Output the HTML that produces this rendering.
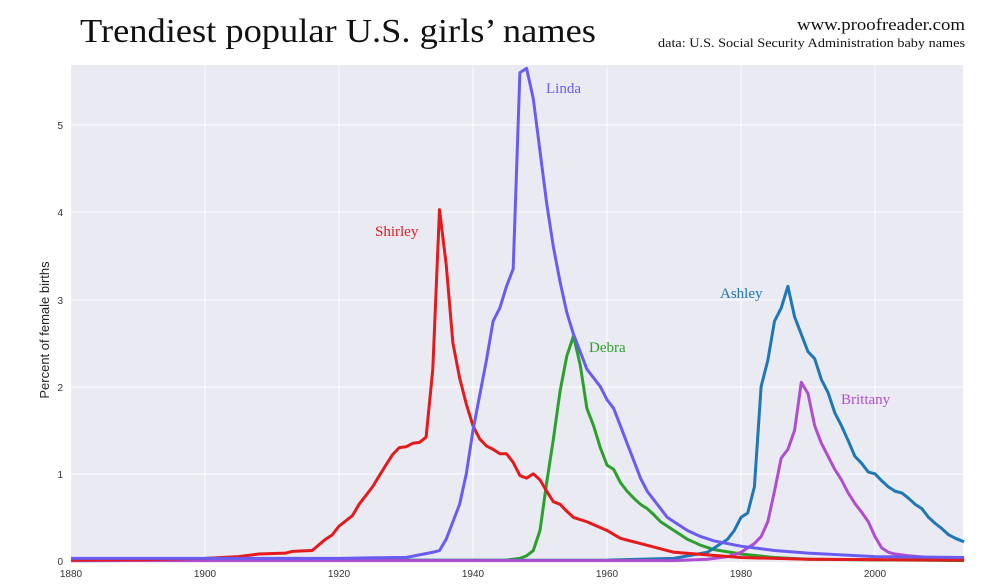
<!DOCTYPE html><html><head><style>body{margin:0;background:#fff}svg{display:block}</style></head><body>
<svg width="988" height="587" xmlns="http://www.w3.org/2000/svg" font-family="Liberation Sans, sans-serif">
<text x="80" y="42" font-family="Liberation Serif, serif" font-size="34" fill="#111" textLength="516" lengthAdjust="spacingAndGlyphs">Trendiest popular U.S. girls’ names</text>
<text x="965" y="30" text-anchor="end" font-family="Liberation Serif, serif" font-size="17" fill="#111" textLength="168" lengthAdjust="spacingAndGlyphs">www.proofreader.com</text>
<text x="965" y="47" text-anchor="end" font-family="Liberation Serif, serif" font-size="13" fill="#111" textLength="307" lengthAdjust="spacingAndGlyphs">data: U.S. Social Security Administration baby names</text>
<rect x="71" y="65" width="892" height="497" fill="#eaeaf2"/>
<g stroke="#fff" stroke-width="1">
<line x1="205" y1="65" x2="205" y2="562"/><line x1="339" y1="65" x2="339" y2="562"/><line x1="473" y1="65" x2="473" y2="562"/><line x1="607" y1="65" x2="607" y2="562"/><line x1="741" y1="65" x2="741" y2="562"/><line x1="875" y1="65" x2="875" y2="562"/>
<line x1="71" y1="474" x2="963" y2="474"/><line x1="71" y1="387" x2="963" y2="387"/><line x1="71" y1="300" x2="963" y2="300"/><line x1="71" y1="212" x2="963" y2="212"/><line x1="71" y1="125" x2="963" y2="125"/>
</g>
<g font-size="10" fill="#333" text-anchor="end">
<text x="63" y="565">0</text><text x="63" y="478">1</text><text x="63" y="391">2</text><text x="63" y="304">3</text><text x="63" y="216">4</text><text x="63" y="129">5</text>
</g>
<g font-size="10" fill="#333" text-anchor="middle">
<text x="71" y="577">1880</text><text x="205" y="577">1900</text><text x="339" y="577">1920</text><text x="473" y="577">1940</text><text x="607" y="577">1960</text><text x="741" y="577">1980</text><text x="875" y="577">2000</text>
</g>
<text transform="translate(49,330) rotate(-90)" text-anchor="middle" font-size="13" fill="#222">Percent of female births</text>
<g transform="translate(71,561) scale(6.7,-87.2)" fill="none" stroke-width="3" stroke-linejoin="round">
<polyline vector-effect="non-scaling-stroke" stroke="#2ca02c" points="0,0.005 65,0.01 67,0.03 68,0.06 69,0.12 70,0.35 71,0.9 72,1.4 73,1.95 74,2.35 75,2.58 76,2.25 77,1.75 78,1.55 79,1.3 80,1.1 81,1.05 82,0.9 83,0.8 84,0.72 85,0.65 86,0.6 87,0.53 88,0.45 90,0.35 92,0.25 94,0.18 96,0.13 100,0.08 105,0.04 110,0.02 133.3,0.005"/>
<polyline vector-effect="non-scaling-stroke" stroke="#1f77b4" points="0,0.005 80,0.01 90,0.03 95,0.1 98,0.25 99,0.35 100,0.5 101,0.55 102,0.85 103,2.0 104,2.3 105,2.75 106,2.9 107,3.15 108,2.8 109,2.6 110,2.4 111,2.32 112,2.08 113,1.93 114,1.7 115,1.55 116,1.38 117,1.2 118,1.12 119,1.02 120,1.0 121,0.92 122,0.85 123,0.8 124,0.78 125,0.72 126,0.65 127,0.6 128,0.5 129,0.43 130,0.37 131,0.3 132,0.26 133.3,0.22"/>
<polyline vector-effect="non-scaling-stroke" stroke="#b04dd0" points="0,0.005 90,0.005 95,0.02 98,0.05 100,0.1 102,0.2 103,0.28 104,0.45 105,0.8 106,1.18 107,1.28 108,1.5 109,2.05 110,1.92 111,1.55 112,1.35 113,1.2 114,1.05 115,0.93 116,0.78 117,0.66 118,0.56 119,0.45 120,0.28 121,0.15 122,0.1 123,0.08 125,0.06 128,0.04 133.3,0.03"/>
<polyline vector-effect="non-scaling-stroke" stroke="#e41a1c" points="0,0.01 10,0.015 20,0.03 25,0.05 28,0.08 32,0.09 33,0.11 36,0.12 38,0.25 39,0.3 40,0.4 42,0.52 43,0.65 45,0.85 47,1.1 48,1.22 49,1.3 50,1.31 51,1.35 52,1.36 53,1.42 54,2.2 55,4.03 56,3.4 57,2.5 58,2.1 59,1.8 60,1.55 61,1.4 62,1.32 63,1.28 64,1.23 65,1.23 66,1.13 67,0.98 68,0.95 69,1.0 70,0.93 71,0.8 72,0.68 73,0.65 74,0.57 75,0.5 77,0.45 80,0.35 82,0.26 85,0.2 90,0.1 95,0.07 100,0.04 110,0.02 133.3,0.01"/>
<polyline vector-effect="non-scaling-stroke" stroke="#6a5cf0" points="0,0.03 20,0.03 40,0.03 48,0.04 50,0.04 52,0.07 54,0.1 55,0.12 56,0.25 57,0.45 58,0.65 59,1.0 60,1.5 61,1.9 62,2.3 63,2.75 64,2.9 65,3.15 66,3.35 67,5.6 68,5.65 69,5.3 70,4.7 71,4.1 72,3.6 73,3.2 74,2.85 75,2.6 76,2.4 77,2.2 78,2.1 79,2.0 80,1.85 81,1.75 82,1.55 83,1.35 84,1.15 85,0.95 86,0.8 87,0.7 88,0.6 89,0.5 90,0.45 92,0.35 94,0.28 96,0.23 100,0.17 105,0.12 110,0.09 120,0.05 133.3,0.04"/>
</g>
<g font-family="Liberation Serif, serif" font-size="15">
<text x="546" y="93" fill="#6a5cf0">Linda</text>
<text x="375" y="236" fill="#e41a1c">Shirley</text>
<text x="589" y="352" fill="#2ca02c">Debra</text>
<text x="720" y="298" fill="#1f77b4">Ashley</text>
<text x="841" y="404" fill="#b04dd0">Brittany</text>
</g>
</svg></body></html>
